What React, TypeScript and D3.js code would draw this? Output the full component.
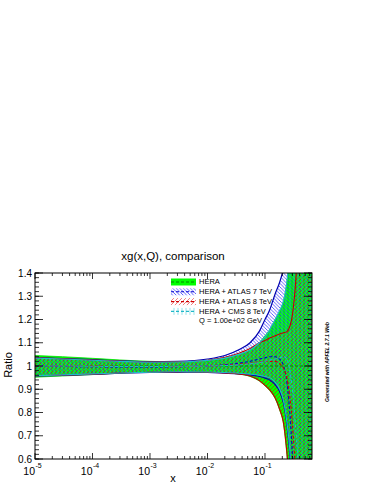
import React from 'react';
import * as d3 from 'd3';

// x grid and band values (ratio to HERA)
const xs = [1e-5, 3e-5, 1e-4, 3e-4, 1e-3, 3e-3, 0.01, 0.02, 0.035, 0.055, 0.08, 0.1, 0.12, 0.15, 0.18, 0.21, 0.24, 0.27, 0.3, 0.35, 0.42, 0.5, 0.66];

const heraUp = [1.045, 1.04, 1.033, 1.026, 1.02, 1.018, 1.022, 1.032, 1.05, 1.069, 1.1, 1.13, 1.155, 1.2, 1.235, 1.28, 1.36, 1.48, 1.6, 1.9, 2.3, 2.8, 3.5];
const heraLo = [0.952, 0.957, 0.963, 0.969, 0.974, 0.975, 0.973, 0.971, 0.965, 0.955, 0.935, 0.915, 0.895, 0.86, 0.81, 0.75, 0.62, 0.45, 0.3, 0.0, -0.4, -0.8, -1.5];
const heraMid = [1, 1, 1, 1, 1, 1, 1, 1, 1, 1, 1, 1, 1, 1, 1, 1, 1, 1, 1, 1, 1, 1, 1];

const atlas7Up = [1.036, 1.032, 1.027, 1.022, 1.018, 1.02, 1.03, 1.045, 1.07, 1.1, 1.15, 1.2, 1.24, 1.31, 1.36, 1.42, 1.5, 1.6, 1.7, 1.9, 2.2, 2.6, 3.2];
const atlas7Lo = [0.957, 0.96, 0.964, 0.969, 0.972, 0.973, 0.972, 0.969, 0.966, 0.962, 0.955, 0.948, 0.94, 0.92, 0.89, 0.84, 0.75, 0.62, 0.45, 0.1, -0.2, -0.5, -1.0];
const atlas7Mid = [1.0, 0.998, 0.997, 0.996, 0.996, 0.997, 1.0, 1.005, 1.012, 1.02, 1.03, 1.035, 1.04, 1.04, 1.03, 1.0, 0.93, 0.8, 0.62, 0.3, 0.0, -0.3, -0.6];

const atlas8Up = [1.035, 1.031, 1.026, 1.021, 1.017, 1.018, 1.025, 1.037, 1.055, 1.075, 1.1, 1.11, 1.12, 1.13, 1.138, 1.143, 1.148, 1.17, 1.22, 1.4, 1.8, 2.2, 3.0];
const atlas8Lo = [0.958, 0.961, 0.965, 0.97, 0.973, 0.974, 0.973, 0.97, 0.966, 0.957, 0.937, 0.917, 0.898, 0.863, 0.814, 0.755, 0.63, 0.47, 0.32, 0.02, -0.4, -0.8, -1.2];
const atlas8Mid = [1.0, 1.0, 1.0, 0.998, 0.998, 0.998, 1.0, 1.003, 1.008, 1.012, 1.018, 1.02, 1.02, 1.02, 1.01, 0.99, 0.95, 0.87, 0.75, 0.5, 0.2, 0.0, -0.2];

const cmsUp = [1.034, 1.03, 1.025, 1.02, 1.016, 1.017, 1.024, 1.034, 1.05, 1.069, 1.1, 1.125, 1.155, 1.2, 1.24, 1.28, 1.36, 1.5, 1.65, 1.95, 2.3, 2.8, 3.5];
const cmsLo = [0.958, 0.962, 0.966, 0.97, 0.973, 0.975, 0.974, 0.972, 0.969, 0.965, 0.96, 0.955, 0.95, 0.93, 0.9, 0.85, 0.76, 0.64, 0.45, 0.1, -0.3, -0.7, -1.2];
const cmsMid = [1.0, 1.0, 0.999, 0.998, 0.998, 0.999, 1.0, 1.002, 1.005, 1.01, 1.015, 1.02, 1.025, 1.03, 1.035, 1.04, 1.03, 0.98, 0.9, 0.7, 0.4, 0.1, -0.2];

const legendLabels = ["HERA", "HERA + ATLAS 7 TeV", "HERA + ATLAS 8 TeV", "HERA + CMS 8 TeV"];
const scaleNote = "Q = 1.00e+02 GeV";

const xDomain = [1e-5, 0.657];
const yDomain = [0.6, 1.4];
const xMajor = [1e-5, 1e-4, 1e-3, 1e-2, 1e-1];
const xExp = ["-5", "-4", "-3", "-2", "-1"];
const yLabels = ["0.6", "0.7", "0.8", "0.9", "1", "1.1", "1.2", "1.3", "1.4"];

const font = "'Liberation Sans', Arial, Helvetica, sans-serif";

const App = () => {
  const L = 35, R = 312, T = 273, B = 459;
  const x = d3.scaleLog().domain(xDomain).range([L, R]);
  const y = d3.scaleLinear().domain(yDomain).range([B, T]);

  const bands = [
    { up: heraUp, lo: heraLo, mid: heraMid, fill: '#00ff00', edge: '#00dd00', dash: '#008800', w: 0.8 },
    { up: atlas7Up, lo: atlas7Lo, mid: atlas7Mid, fill: 'url(#hBlue)', edge: '#0000b0', dash: '#0000cc', w: 1.2 },
    { up: atlas8Up, lo: atlas8Lo, mid: atlas8Mid, fill: 'url(#hRed)', edge: '#c00000', dash: '#d00000', w: 1.1 },
    { up: cmsUp, lo: cmsLo, mid: cmsMid, fill: 'url(#hCyan)', edge: '#20b8c8', dash: '#20b8c8', w: 1.1 },
  ];

  const area = (up, lo) => d3.area()
    .x((_, i) => x(xs[i]))
    .y0((_, i) => y(lo[i]))
    .y1(d => y(d))
    .curve(d3.curveMonotoneX)(up);
  const line = (v) => d3.line()
    .x((_, i) => x(xs[i]))
    .y(d => y(d))
    .curve(d3.curveMonotoneX)(v);

  // log minor ticks
  const xMinor = [];
  xMajor.forEach(d => {
    for (let k = 2; k <= 9; k++) if (d * k <= xDomain[1]) xMinor.push(d * k);
  });
  const yMinor = d3.range(0, 41).map(i => 0.6 + i * 0.02);
  const yMajor = yLabels.map(Number);

  const rowY = (i) => 281.5 + i * 9.8;

  return (
    <svg width={374} height={484} style={{ position: 'absolute', left: 0, top: 0, background: '#fff' }}>
      <defs>
        <clipPath id="plotClip"><rect x={L} y={T} width={R - L} height={B - T} /></clipPath>
        <pattern id="hBlue" width={3.5} height={3.5} patternUnits="userSpaceOnUse">
          <path d="M0,0 L3.5,3.5 M-1,2.5 L1,4.5 M2.5,-1 L4.5,1" stroke="#2020ff" strokeWidth={0.7} />
        </pattern>
        <pattern id="hRed" width={4} height={4} patternUnits="userSpaceOnUse">
          <path d="M0,4 L4,0 M-1,1 L1,-1 M3,5 L5,3" stroke="#e00000" strokeWidth={0.5} />
        </pattern>
        <pattern id="hCyan" width={4} height={4} patternUnits="userSpaceOnUse">
          <path d="M2,0 V4" stroke="#30c8d8" strokeWidth={0.5} />
        </pattern>
      </defs>

      <text x={173} y={260} textAnchor="middle" fontFamily={font} fontSize={11.5}>xg(x,Q), comparison</text>

      <g clipPath="url(#plotClip)">
        {bands.map((b, i) => <path key={'f' + i} d={area(b.up, b.lo)} fill={b.fill} stroke="none" />)}
        {bands.map((b, i) => (
          <g key={'l' + i} fill="none">
            <path d={line(b.up)} stroke={b.edge} strokeWidth={b.w} />
            <path d={line(b.lo)} stroke={b.edge} strokeWidth={b.w} />
            <path d={line(b.mid)} stroke={b.dash} strokeWidth={1.1} strokeDasharray="3,2" />
          </g>
        ))}
      </g>

      {/* legend */}
      {legendLabels.map((t, i) => {
        const b = bands[i];
        const cy = rowY(i);
        return (
          <g key={t}>
            <rect x={171} y={cy - 3} width={25} height={7} fill={b.fill} />
            <line x1={171} x2={196} y1={cy + 0.5} y2={cy + 0.5} stroke={b.dash} strokeWidth={1.1} strokeDasharray="3,2" />
            <text x={199} y={cy + 2.7} fontFamily={font} fontSize={7.5}>{t}</text>
          </g>
        );
      })}
      <text x={199} y={rowY(4) + 2.7} fontFamily={font} fontSize={7.5}>{scaleNote}</text>

      {/* ticks */}
      <g stroke="#000" strokeWidth={0.8}>
        {yMajor.map(v => (
          <g key={'ym' + v}>
            <line x1={L} x2={L + 8} y1={y(v)} y2={y(v)} />
            <line x1={R} x2={R - 8} y1={y(v)} y2={y(v)} />
          </g>
        ))}
        {yMinor.map((v, i) => (
          <g key={'yn' + i}>
            <line x1={L} x2={L + 4} y1={y(v)} y2={y(v)} />
            <line x1={R} x2={R - 4} y1={y(v)} y2={y(v)} />
          </g>
        ))}
        {xMajor.map(v => (
          <g key={'xm' + v}>
            <line x1={x(v)} x2={x(v)} y1={B} y2={B - 6} />
            <line x1={x(v)} x2={x(v)} y1={T} y2={T + 6} />
          </g>
        ))}
        {xMinor.map((v, i) => (
          <g key={'xn' + i}>
            <line x1={x(v)} x2={x(v)} y1={B} y2={B - 3} />
            <line x1={x(v)} x2={x(v)} y1={T} y2={T + 3} />
          </g>
        ))}
      </g>
      <rect x={L} y={T} width={R - L} height={B - T} fill="none" stroke="#000" strokeWidth={1} />

      {/* tick labels */}
      {yLabels.map(t => (
        <text key={t} x={32} y={y(Number(t)) + 3.6} textAnchor="end" fontFamily={font} fontSize={10}>{t}</text>
      ))}
      {xMajor.map((v, i) => (
        <g key={'xl' + i} fontFamily={font}>
          <text x={x(v)} y={475} textAnchor="end" fontSize={10.5}>10</text>
          <text x={x(v) + 0.5} y={468} fontSize={7}>{xExp[i]}</text>
        </g>
      ))}

      <text x={173} y={482} textAnchor="middle" fontFamily={font} fontSize={11}>x</text>
      <text transform="translate(12,365) rotate(-90)" textAnchor="middle" fontFamily={font} fontSize={11}>Ratio</text>
      <text transform="translate(329,362) rotate(-90)" textAnchor="middle" fontFamily={font} fontSize={6}
        fontWeight="bold" fontStyle="italic" textLength={80} lengthAdjust="spacingAndGlyphs">Generated with APFEL 2.7.1 Web</text>
    </svg>
  );
};

export default App;
